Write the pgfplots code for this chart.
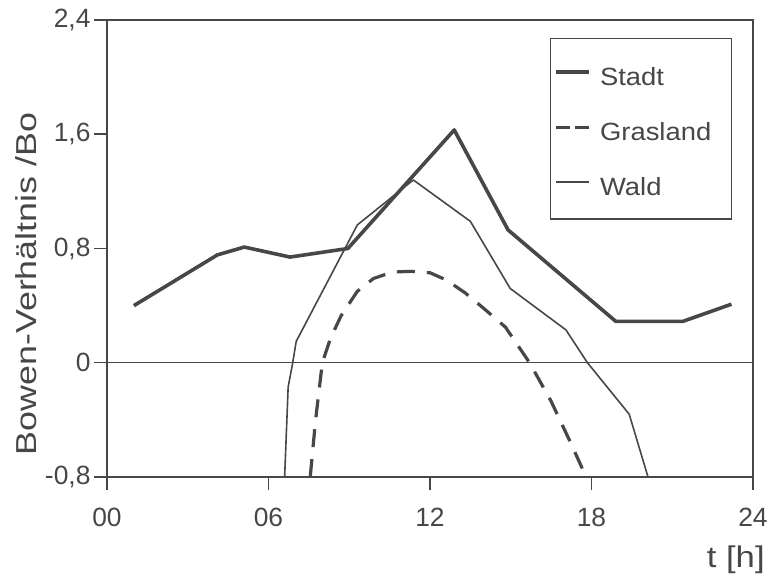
\documentclass[border=0pt]{standalone}
\usepackage{fontspec}
\setmainfont{Liberation Sans}
\usepackage{pgfplots}
\pgfplotsset{compat=1.18}
\usepackage{graphicx}

\definecolor{ink}{gray}{0.28}

\begin{document}
\begin{tikzpicture}
\begin{axis}[
  scale only axis,
  width=646bp, height=457bp,
  xmin=0, xmax=24, ymin=-0.8, ymax=2.4,
  clip=false,
  axis line style={ink, line width=1.8bp},
  tick style={ink, line width=1.5bp},
  tick align=outside,
  major tick length=13bp,
  xtick={0,6,12,18,24},
  xticklabels={00,06,12,18,24},
  ytick={-0.8,0,0.8,1.6,2.4},
  yticklabels={{-0,8},{0},{0,8},{1,6},{2,4}},
  xtick pos=bottom, ytick pos=left,
  tick label style={font=\fontsize{26.5}{26.5}\selectfont, text=ink},
  xticklabel style={yshift=-15bp},
  ylabel={\scalebox{1.24}[1]{Bowen-Verhältnis /Bo}},
  ylabel style={at={(axis description cs:-0.1254,0.4223)}, anchor=center,
                font=\fontsize{29}{29}\selectfont, text=ink, rotate=0},
  xlabel={\scalebox{1.16}[1]{t [h]}},
  xlabel style={at={(axis description cs:1.0235,-0.197)}, anchor=base east,
                font=\fontsize{30}{30}\selectfont, text=ink},
  legend style={at={(axis description cs:0.9675,0.9606)}, anchor=north east,
                draw=ink, line width=1.5bp, text=ink,
                font=\fontsize{25}{25}\selectfont,
                inner xsep=4bp, inner ysep=20.5bp,
                column sep=9bp, row sep=26bp,
                nodes={inner sep=0bp, text height=26bp, text depth=3bp}},
  legend cell align=left,
  legend image code/.code={\draw[#1] (0bp,1.5bp) -- (33bp,1.5bp);},
]

% Bowen ratio at zero
\addplot[ink, line width=1.5bp, forget plot] coordinates {(0,0) (24,0)};

% Stadt
\addplot[ink, line width=3.6bp, line join=round] coordinates {
  (1.0,0.40) (4.1,0.755) (5.1,0.81) (6.8,0.74) (8.95,0.80)
  (12.9,1.63) (14.9,0.93) (18.9,0.29) (21.4,0.29) (23.2,0.41)
};
\addlegendentry{\scalebox{1.1}[1]{Stadt}}

% Grasland
\addplot[ink, line width=3.2bp, dash pattern=on 18bp off 12bp,
  legend image code/.code={\draw[ink, line width=3.2bp, dash pattern=on 14bp off 5bp] (0bp,1.5bp) -- (33bp,1.5bp);}]
  coordinates {
  (7.55,-0.8) (7.75,-0.4) (8.0,0) (8.3,0.17) (8.7,0.33) (9.3,0.50)
  (9.9,0.59) (10.6,0.635) (11.3,0.64) (12.0,0.63) (12.6,0.58)
  (13.3,0.49) (14.0,0.38) (14.8,0.25) (15.7,0) (16.5,-0.27)
  (17.2,-0.55) (17.8,-0.8)
};
\addlegendentry{\scalebox{1.1}[1]{Grasland}\hspace*{16bp}}

% Wald
\addplot[ink, line width=1.6bp, line join=round] coordinates {
  (6.6,-0.8) (6.73,-0.17) (6.9,0) (7.03,0.15) (9.3,0.965)
  (11.38,1.28) (13.5,0.99) (14.98,0.52) (17.05,0.23) (17.85,0)
  (19.4,-0.36) (20.1,-0.8)
};
\addlegendentry{\scalebox{1.1}[1]{Wald}}

% page extent
\path (rel axis cs:-0.16563,-0.21007) rectangle (rel axis cs:1.02786,1.04376);
\end{axis}
\end{tikzpicture}
\end{document}
